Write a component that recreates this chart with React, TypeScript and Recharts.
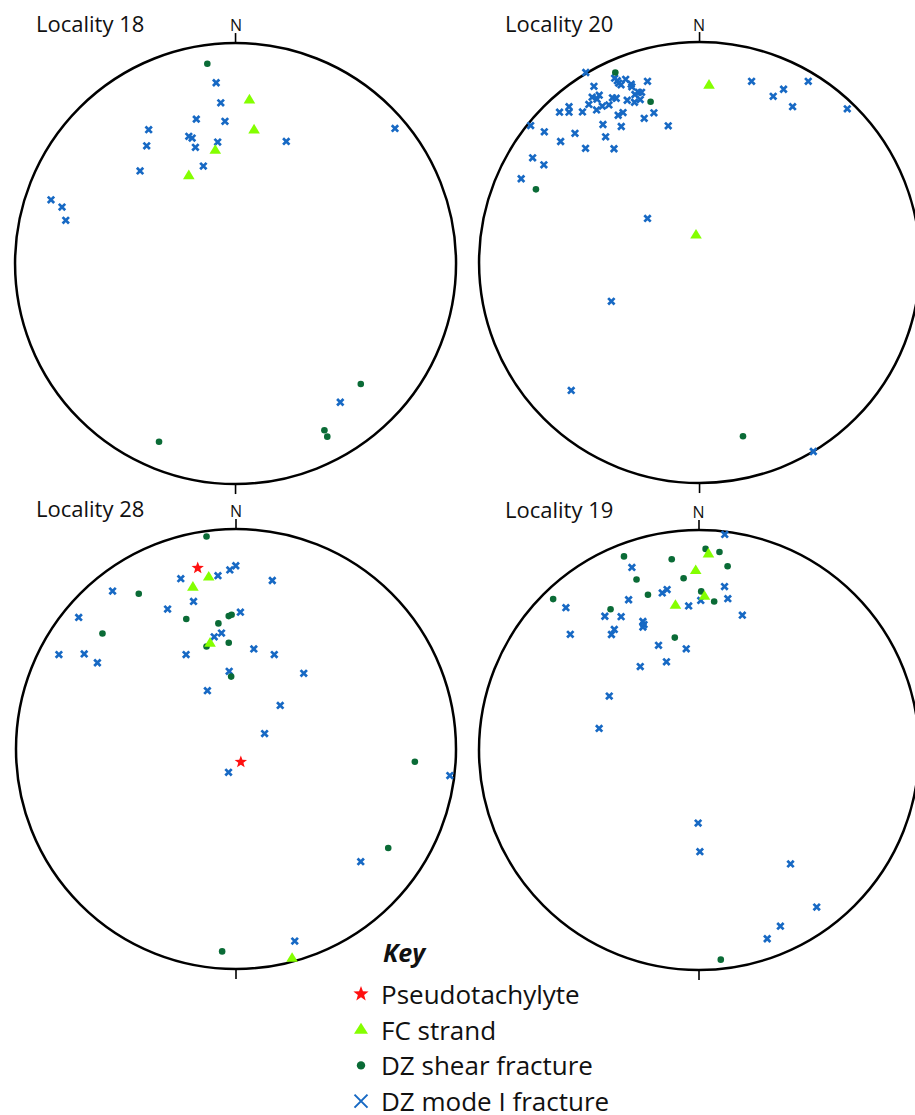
import React from 'react';
import { ScatterChart, Scatter, XAxis, YAxis, ReferenceDot, ReferenceLine } from 'recharts';

type Pt = [number, number];

// Locality 18
const loc18Pseudo: Pt[] = [];
const loc18FC: Pt[] = [[0.063, 0.741], [0.084, 0.605], [-0.092, 0.513], [-0.212, 0.398]];
const loc18Shear: Pt[] = [[-0.128, 0.906], [0.568, -0.546], [0.403, -0.756], [0.416, -0.785], [-0.347, -0.808]];
const loc18Mode1: Pt[] = [
  [-0.088, 0.82], [-0.067, 0.729], [-0.178, 0.655], [-0.048, 0.645], [-0.394, 0.607], [0.723, 0.613],
  [-0.403, 0.534], [-0.212, 0.577], [-0.197, 0.569], [-0.182, 0.527], [-0.081, 0.551], [0.23, 0.554],
  [-0.146, 0.442], [-0.433, 0.42], [-0.837, 0.289], [-0.787, 0.256], [-0.77, 0.196], [0.475, -0.629],
];

// Locality 20
const loc20Pseudo: Pt[] = [];
const loc20FC: Pt[] = [[0.043, 0.804], [-0.016, 0.124]];
const loc20Shear: Pt[] = [[-0.382, 0.862], [-0.222, 0.729], [-0.742, 0.332], [0.197, -0.788]];
const loc20Mode1: Pt[] = [
  [-0.516, 0.862], [-0.385, 0.836], [-0.373, 0.825], [-0.367, 0.814], [-0.356, 0.806], [-0.335, 0.831],
  [-0.31, 0.809], [-0.307, 0.797], [-0.236, 0.822], [-0.479, 0.799], [-0.277, 0.772], [-0.263, 0.772],
  [-0.293, 0.762], [-0.269, 0.739], [-0.295, 0.727], [-0.328, 0.736], [-0.395, 0.747], [-0.378, 0.745],
  [-0.487, 0.75], [-0.455, 0.759], [-0.465, 0.741], [-0.502, 0.717], [-0.441, 0.709], [-0.411, 0.715],
  [-0.467, 0.692], [-0.592, 0.707], [-0.592, 0.682], [-0.635, 0.682], [-0.531, 0.683], [-0.347, 0.68],
  [-0.369, 0.668], [-0.207, 0.679], [-0.251, 0.654], [-0.766, 0.621], [-0.438, 0.626], [-0.355, 0.617],
  [-0.142, 0.62], [-0.704, 0.593], [-0.565, 0.586], [-0.426, 0.57], [-0.63, 0.549], [-0.517, 0.518],
  [-0.388, 0.516], [-0.757, 0.475], [-0.706, 0.443], [-0.809, 0.38], [-0.236, 0.2], [0.236, 0.822],
  [0.493, 0.822], [0.381, 0.786], [0.334, 0.754], [0.422, 0.707], [0.67, 0.697], [-0.4, -0.176],
  [-0.582, -0.58], [0.516, -0.857],
];

// Locality 28
const loc28Pseudo: Pt[] = [[-0.174, 0.823], [0.022, -0.059]];
const loc28FC: Pt[] = [[-0.124, 0.781], [-0.196, 0.735], [-0.118, 0.48], [0.255, -0.952]];
const loc28Shear: Pt[] = [
  [-0.134, 0.966], [-0.442, 0.706], [-0.226, 0.591], [-0.033, 0.604], [-0.02, 0.61], [-0.08, 0.571],
  [-0.607, 0.525], [-0.134, 0.466], [-0.033, 0.483], [-0.022, 0.329], [0.813, -0.058], [0.692, -0.45],
  [-0.063, -0.92],
];
const loc28Mode1: Pt[] = [
  [-0.001, 0.833], [-0.028, 0.814], [-0.082, 0.788], [-0.251, 0.774], [0.165, 0.766], [-0.561, 0.718],
  [-0.193, 0.671], [-0.311, 0.636], [0.02, 0.622], [-0.715, 0.598], [-0.066, 0.527], [-0.099, 0.51],
  [-0.805, 0.429], [-0.69, 0.432], [-0.63, 0.392], [-0.227, 0.429], [0.081, 0.455], [0.174, 0.429],
  [-0.031, 0.353], [0.308, 0.344], [-0.13, 0.265], [0.201, 0.198], [0.13, 0.07], [-0.034, -0.106],
  [0.972, -0.121], [0.567, -0.512], [0.267, -0.873],
];

// Locality 19
const loc19Pseudo: Pt[] = [];
const loc19FC: Pt[] = [[0.043, 0.891], [-0.015, 0.815], [0.025, 0.698], [-0.107, 0.657]];
const loc19Shear: Pt[] = [
  [0.03, 0.914], [0.093, 0.9], [-0.341, 0.88], [-0.124, 0.867], [0.13, 0.835], [-0.07, 0.781],
  [-0.284, 0.775], [0.01, 0.721], [-0.232, 0.706], [0.069, 0.675], [-0.663, 0.686], [-0.402, 0.64],
  [-0.11, 0.511], [0.099, -0.953],
];
const loc19Mode1: Pt[] = [
  [0.117, 0.98], [-0.305, 0.83], [0.116, 0.743], [-0.145, 0.729], [-0.167, 0.714], [0.131, 0.688],
  [-0.32, 0.683], [0.008, 0.68], [-0.047, 0.655], [-0.605, 0.647], [0.197, 0.613], [-0.428, 0.608],
  [-0.354, 0.606], [-0.255, 0.584], [-0.25, 0.57], [-0.255, 0.559], [-0.385, 0.548], [-0.398, 0.525],
  [-0.585, 0.526], [-0.184, 0.476], [-0.058, 0.46], [-0.148, 0.401], [-0.267, 0.379], [-0.408, 0.245],
  [-0.454, 0.098], [-0.004, -0.332], [0.004, -0.462], [0.416, -0.518], [0.535, -0.714], [0.37, -0.801],
  [0.31, -0.858],
];

const legendLabels = ['Pseudotachylyte', 'FC strand', 'DZ shear fracture', 'DZ mode I fracture'];

const COL = { pseudo: '#ff1010', fc: '#84ff00', shear: '#0a6b36', mode1: '#1769c4' };
const FONT = '"Open Sans", sans-serif';
const D = 1.1;

const toPts = (a: Pt[]) => a.map(([x, y]) => ({ x, y }));

function starPath(cx: number, cy: number, ro: number, ri: number) {
  let d = '';
  for (let i = 0; i < 10; i++) {
    const rr = i % 2 === 0 ? ro : ri;
    const a = -Math.PI / 2 + (i * Math.PI) / 5;
    d += (i === 0 ? 'M' : 'L') + (cx + rr * Math.cos(a)).toFixed(2) + ',' + (cy + rr * Math.sin(a)).toFixed(2);
  }
  return d + 'Z';
}

const XMark = (p: any) => {
  const { cx, cy } = p;
  if (cx == null || cy == null) return <g />;
  const s = 3.2;
  return (
    <path
      d={`M${cx - s},${cy - s}L${cx + s},${cy + s}M${cx + s},${cy - s}L${cx - s},${cy + s}`}
      stroke={COL.mode1}
      strokeWidth={2.7}
      fill="none"
    />
  );
};
const DotMark = (p: any) => {
  const { cx, cy } = p;
  if (cx == null || cy == null) return <g />;
  return <circle cx={cx} cy={cy} r={3.3} fill={COL.shear} />;
};
const TriMark = (p: any) => {
  const { cx, cy } = p;
  if (cx == null || cy == null) return <g />;
  return <path d={`M${cx},${cy - 6.3}L${cx + 5.8},${cy + 3.4}L${cx - 5.8},${cy + 3.4}Z`} fill={COL.fc} />;
};
const StarMark = (p: any) => {
  const { cx, cy } = p;
  if (cx == null || cy == null) return <g />;
  return <path d={starPath(cx, cy, 6.5, 2.7)} fill={COL.pseudo} />;
};

type PanelProps = {
  cx: number;
  cy: number;
  r: number;
  pseudo: Pt[];
  fc: Pt[];
  shear: Pt[];
  mode1: Pt[];
};

function Panel({ cx, cy, r, pseudo, fc, shear, mode1 }: PanelProps) {
  const size = 2 * D * r;
  const tick = 10 / r;
  return (
    <div style={{ position: 'absolute', left: cx - D * r, top: cy - D * r, width: size, height: size }}>
      <ScatterChart width={size} height={size} margin={{ top: 0, right: 0, bottom: 0, left: 0 }}>
        <XAxis type="number" dataKey="x" domain={[-D, D]} hide allowDataOverflow />
        <YAxis type="number" dataKey="y" domain={[-D, D]} hide allowDataOverflow />
        <ReferenceDot x={0} y={0} r={r} fill="none" stroke="#000" strokeWidth={2.5} />
        <ReferenceLine segment={[{ x: 0, y: 1 }, { x: 0, y: 1 + tick }]} stroke="#000" strokeWidth={1.6} />
        <ReferenceLine segment={[{ x: 0, y: -1 }, { x: 0, y: -1 - tick }]} stroke="#000" strokeWidth={1.6} />
        <Scatter data={toPts(mode1)} shape={XMark} isAnimationActive={false} />
        <Scatter data={toPts(shear)} shape={DotMark} isAnimationActive={false} />
        <Scatter data={toPts(fc)} shape={TriMark} isAnimationActive={false} />
        <Scatter data={toPts(pseudo)} shape={StarMark} isAnimationActive={false} />
      </ScatterChart>
    </div>
  );
}

function LegendIcon({ i, x, y }: { i: number; x: number; y: number }) {
  if (i === 0) return <path d={starPath(x, y, 8, 3.3)} fill={COL.pseudo} />;
  if (i === 1) return <path d={`M${x},${y - 7}L${x + 7},${y + 4}L${x - 7},${y + 4}Z`} fill={COL.fc} />;
  if (i === 2) return <circle cx={x} cy={y} r={4.2} fill={COL.shear} />;
  const s = 6.5;
  return (
    <path
      d={`M${x - s},${y - s}L${x + s},${y + s}M${x + s},${y - s}L${x - s},${y + s}`}
      stroke={COL.mode1}
      strokeWidth={2}
      fill="none"
    />
  );
}

export default function App() {
  const titles = [
    { t: 'Locality 18', x: 36, y: 32, nx: 236, ny: 31 },
    { t: 'Locality 20', x: 505, y: 32, nx: 699, ny: 31 },
    { t: 'Locality 28', x: 36, y: 517, nx: 236, ny: 517 },
    { t: 'Locality 19', x: 505, y: 518, nx: 698.5, ny: 517.5 },
  ];
  return (
    <div
      style={{
        position: 'absolute',
        left: 0,
        top: 0,
        width: 915,
        height: 1115,
        overflow: 'hidden',
        background: '#fff',
      }}
    >
      <Panel cx={235.5} cy={263.5} r={220.5} pseudo={loc18Pseudo} fc={loc18FC} shear={loc18Shear} mode1={loc18Mode1} />
      <Panel cx={699.3} cy={263} r={220.5} pseudo={loc20Pseudo} fc={loc20FC} shear={loc20Shear} mode1={loc20Mode1} />
      <Panel cx={235.5} cy={749.3} r={220} pseudo={loc28Pseudo} fc={loc28FC} shear={loc28Shear} mode1={loc28Mode1} />
      <Panel cx={698.5} cy={750} r={220} pseudo={loc19Pseudo} fc={loc19FC} shear={loc19Shear} mode1={loc19Mode1} />
      <svg width={915} height={1115} style={{ position: 'absolute', left: 0, top: 0 }}>
        {titles.map((d) => (
          <g key={d.t}>
            <text x={d.x} y={d.y} fontFamily={FONT} fontSize={22} fill="#111">
              {d.t}
            </text>
            <text x={d.nx} y={d.ny} fontFamily={FONT} fontSize={16} fill="#111" textAnchor="middle">
              N
            </text>
          </g>
        ))}
        <text x={383} y={962} fontFamily={FONT} fontSize={25} fontWeight={700} fontStyle="italic" fill="#111">
          Key
        </text>
        {legendLabels.map((l, i) => (
          <g key={l}>
            <LegendIcon i={i} x={361} y={994 + i * 35.7} />
            <text x={381} y={1004 + i * 35.7} fontFamily={FONT} fontSize={26} fill="#111">
              {l}
            </text>
          </g>
        ))}
      </svg>
    </div>
  );
}
